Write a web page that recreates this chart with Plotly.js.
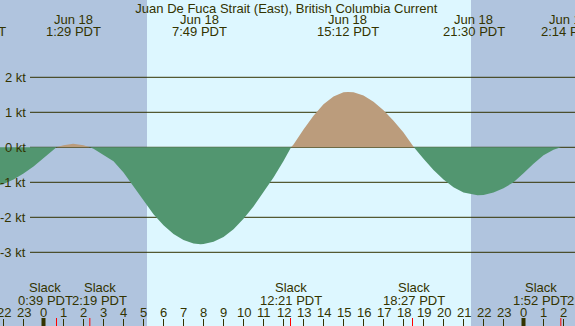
<!DOCTYPE html>
<html>
<head>
<meta charset="utf-8">
<script src="https://cdn.plot.ly/plotly-3.0.1.min.js"></script>
<style>html,body{margin:0;padding:0;background:#b0c4de;}#chart{width:575px;height:326px;}</style>
</head>
<body>
<div id="chart"></div>
<script>
// ---- data (hours since Jun 18 00:00 PDT, current in knots) ----
const hours = [-2.175,-2.0,-1.5,-1.0,-0.5,0.0,0.5,0.65,1.0,1.483,2.0,2.317,2.5,2.825,3.0,3.5,4.0,4.5,5.0,5.5,6.0,6.5,7.0,7.5,7.85,8.0,8.5,9.0,9.5,10.0,10.5,11.0,11.5,12.0,12.38,12.5,13.0,13.5,14.0,14.5,15.0,15.22,15.5,16.0,16.5,17.0,17.5,18.0,18.52,19.0,19.5,20.0,20.5,21.0,21.5,21.7,22.0,22.5,23.0,23.5,24.0,24.5,25.0,25.5,25.87,26.575];
const knots = [-1.08,-1.045,-0.92,-0.75,-0.55,-0.32,-0.07,0,0.06,0.10,0.056,0,-0.04,-0.15,-0.22,-0.40,-0.72,-1.12,-1.54,-1.91,-2.23,-2.48,-2.65,-2.75,-2.77,-2.765,-2.70,-2.56,-2.34,-2.04,-1.69,-1.29,-0.86,-0.39,0,0.08,0.51,0.90,1.23,1.45,1.57,1.58,1.57,1.48,1.30,1.06,0.76,0.42,0,-0.33,-0.65,-0.92,-1.14,-1.29,-1.36,-1.37,-1.36,-1.29,-1.17,-1.00,-0.74,-0.47,-0.23,-0.07,0,0];

const eventHours = [-3.43, 1.483, 7.817, 15.2, 21.5, 26.233];
const eventDates = ["Jun 17", "Jun 18", "Jun 18", "Jun 18", "Jun 18", "Jun 19"];
const eventTimes = ["20:34 PDT", "1:29 PDT", "7:49 PDT", "15:12 PDT", "21:30 PDT", "2:14 PDT"];

const slackHours = [0.65, 2.317, 12.35, 18.45, 25.867, 26.6];
const slackTimes = ["0:39 PDT", "2:19 PDT", "12:21 PDT", "18:27 PDT", "1:52 PDT", "2:36 PDT"];

const tickHours = [-2,-1,0,1,2,3,4,5,6,7,8,9,10,11,12,13,14,15,16,17,18,19,20,21,22,23,24,25,26];
const tickLabels = ["22","23","0","1","2","3","4","5","6","7","8","9","10","11","12","13","14","15","16","17","18","19","20","21","22","23","0","1","2"];
const midnightHours = [0, 24];

const gridKnots = [2, 1, 0, -1, -2, -3];
const gridLabels = ["2 kt", "1 kt", "0 kt", "-1 kt", "-2 kt", "-3 kt"];

const sunrise = 5.175, sunset = 21.375;
const titleText = "Juan De Fuca Strait (East), British Columbia Current";

// ---- layout constants ----
const W = 575, H = 326;
const xRange = [-2.175, 26.575];
const yRange = [-5.1057, 4.2086];
const pxPerHour = W / (xRange[1] - xRange[0]);
const ink = "#333300";
const nightColor = "#b0c4de", dayColor = "#ddf7ff";
const ebbColor = "#529670", floodColor = "#bb9c7c";
const FONT = "Liberation Sans, Arial, sans-serif";
const slackShift = [-11.5, 10, 0, 1, -20, 18.5];
const py = p => 1 - p / H;

// keep annotation anchors inside the axis range (Plotly hides off-range ones) and shift the text instead
function anchorX(h, shift) {
  const lo = xRange[0] + 0.01, hi = xRange[1] - 0.01;
  const c = Math.min(Math.max(h, lo), hi);
  return {x: c, xshift: (shift || 0) + (h - c) * pxPerHour};
}

const pos = knots.map(v => Math.max(v, 0));
const neg = knots.map(v => Math.min(v, 0));

const traces = [
  {x: hours, y: neg, type: "scatter", mode: "lines", fill: "tozeroy", fillcolor: ebbColor,
   line: {width: 0, color: "rgba(0,0,0,0)"}, hoverinfo: "skip"},
  {x: hours, y: pos, type: "scatter", mode: "lines", fill: "tozeroy", fillcolor: floodColor,
   line: {width: 0, color: "rgba(0,0,0,0)"}, hoverinfo: "skip"}
];

const shapes = [];
shapes.push({type: "rect", xref: "x", yref: "paper", x0: sunrise, x1: sunset, y0: 0, y1: 1,
  fillcolor: dayColor, line: {width: 0}, layer: "below"});
gridKnots.forEach(v => shapes.push({type: "line", xref: "paper", yref: "y", x0: 30 / W, x1: 1, y0: v, y1: v,
  line: {color: ink, width: 1}, layer: "below"}));
midnightHours.forEach(h => shapes.push({type: "line", xref: "x", yref: "paper", x0: h, x1: h, y0: 0, y1: 8 / H,
  line: {color: ink, width: 4}}));
slackHours.forEach(h => shapes.push({type: "line", xref: "x", yref: "paper", x0: h, x1: h, y0: 0, y1: 8 / H,
  line: {color: "#ff0000", width: 1}}));

const annotations = [];
const txt = (x, xref, y, yref, text, extra) => Object.assign({x, xref, y, yref, text, showarrow: false,
  xanchor: "center", yanchor: "middle", font: {family: FONT, size: 13, color: ink}}, extra || {});

gridKnots.forEach((v, i) => annotations.push(txt(28 / W, "paper", v, "y", gridLabels[i], {xanchor: "right"})));
eventHours.forEach((h, i) => {
  const a = anchorX(h, 0);
  annotations.push(txt(a.x, "x", py(19.5), "paper", eventDates[i], {xshift: a.xshift}));
  annotations.push(txt(a.x, "x", py(32), "paper", eventTimes[i], {xshift: a.xshift}));
});
slackHours.forEach((h, i) => {
  const a = anchorX(h, slackShift[i]);
  annotations.push(txt(a.x, "x", py(287.5), "paper", "Slack", {xshift: a.xshift}));
  annotations.push(txt(a.x, "x", py(300), "paper", slackTimes[i], {xshift: a.xshift}));
});
tickHours.forEach((h, i) => {
  const a = anchorX(h, 0);
  annotations.push(txt(a.x, "x", py(312), "paper", tickLabels[i], {xshift: a.xshift}));
});

const layout = {
  width: W, height: H,
  margin: {l: 0, r: 0, t: 0, b: 0, pad: 0},
  paper_bgcolor: nightColor, plot_bgcolor: nightColor,
  showlegend: false,
  font: {family: FONT, size: 13, color: ink},
  title: {text: titleText, x: 0.498, xanchor: "center", y: py(8.5), yanchor: "middle", yref: "container",
    font: {family: FONT, size: 13, color: ink}},
  xaxis: {range: xRange, showgrid: false, zeroline: false, showline: false, showticklabels: false,
    tickmode: "array", tickvals: tickHours, ticks: "inside", ticklen: 7, tickwidth: 1, tickcolor: ink, fixedrange: true},
  yaxis: {range: yRange, showgrid: false, zeroline: false, showline: false, showticklabels: false, ticks: "", fixedrange: true},
  shapes, annotations
};

Plotly.newPlot("chart", traces, layout, {displayModeBar: false, staticPlot: true});
</script>
</body>
</html>
